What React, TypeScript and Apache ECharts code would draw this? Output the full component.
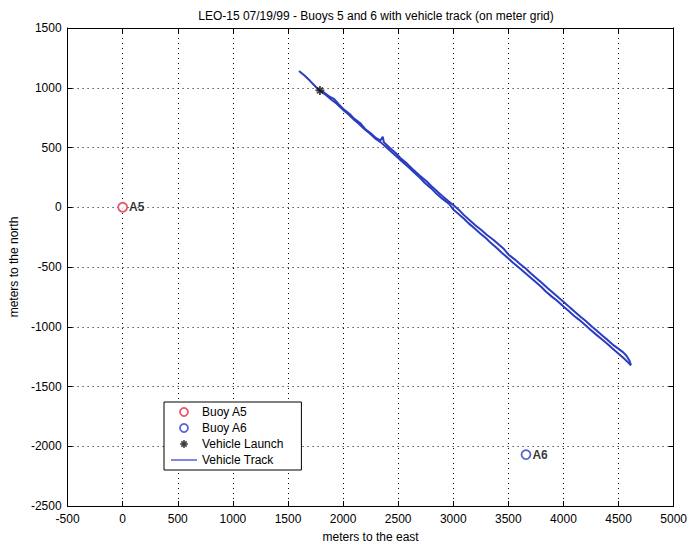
import React, { useEffect, useRef } from "react";
import * as echarts from "echarts";

const titleText = "LEO-15 07/19/99 - Buoys 5 and 6 with vehicle track (on meter grid)";
const xTicks = { min: -500, max: 5000, interval: 500 };
const yTicks = { min: -2500, max: 1500, interval: 500 };

const buoyA5: number[][] = [[0, 0]];
const buoyA6: number[][] = [[3660, -2070]];
const launch: number[][] = [[1790, 978]];

// Outbound leg of the vehicle track
const trackOut: number[][] = [
  [1600, 1140], [1650, 1102], [1700, 1058], [1760, 1000], [1790, 975], [1830, 958],
  [1870, 930], [1920, 905], [1960, 862], [2000, 825], [2060, 780], [2100, 742],
  [2160, 700], [2200, 655], [2260, 612], [2300, 578], [2340, 560], [2360, 590],
  [2370, 545], [2420, 500], [2480, 452], [2520, 412], [2580, 365], [2630, 320],
  [2700, 262], [2760, 215], [2800, 178], [2860, 128], [2900, 95], [2960, 48],
  [3000, 18], [3060, -30], [3100, -68], [3160, -118], [3200, -150], [3260, -195],
  [3300, -228], [3360, -270], [3400, -302], [3460, -350], [3500, -395], [3560, -438],
  [3600, -470], [3660, -515], [3700, -550], [3760, -598], [3800, -630], [3860, -680],
  [3900, -712], [3960, -760], [4000, -790], [4060, -840], [4100, -872], [4160, -920],
  [4200, -950], [4260, -1000], [4300, -1032], [4360, -1080], [4400, -1110],
  [4460, -1158], [4500, -1185], [4540, -1212], [4570, -1240], [4600, -1285], [4612, -1322],
];

// Return leg of the vehicle track
const trackBack: number[][] = [
  [4612, -1322], [4580, -1292], [4540, -1258], [4500, -1225], [4440, -1178],
  [4400, -1145], [4340, -1098], [4300, -1068], [4240, -1020], [4200, -988],
  [4140, -940], [4100, -912], [4040, -862], [4000, -830], [3940, -780],
  [3900, -752], [3840, -705], [3800, -668], [3740, -620], [3700, -588],
  [3640, -540], [3600, -508], [3540, -462], [3500, -428], [3440, -380],
  [3400, -345], [3340, -298], [3300, -262], [3240, -215], [3200, -182],
  [3140, -135], [3100, -98], [3040, -50], [3000, -18], [2960, 30], [2900, 72],
  [2840, 120], [2800, 158], [2740, 205], [2700, 245], [2640, 295], [2600, 330],
  [2540, 378], [2500, 412], [2440, 462], [2400, 495], [2340, 545], [2300, 570],
  [2240, 620], [2200, 648], [2140, 700], [2100, 732], [2040, 785], [2000, 815],
  [1940, 868], [1900, 895], [1850, 935], [1810, 962],
];

const legendNames = ["Buoy A5", "Buoy A6", "Vehicle Launch", "Vehicle Track"];

const starPath =
  "path://M0,4L10,4L10,6L0,6Z M4,0L6,0L6,10L4,10Z M1,2.4L2.4,1L9,7.6L7.6,9Z M7.6,1L9,2.4L2.4,9L1,7.6Z";
const linePath = "path://M0,0L28,0L28,1.6L0,1.6Z";

export default function App() {
  const ref = useRef<HTMLDivElement>(null);
  useEffect(() => {
    if (!ref.current) return;
    const chart = echarts.init(ref.current, null, { renderer: "svg" });
    const font = "Liberation Sans";
    const trackColor = "#2a3cc0";
    const axisCommon = {
      type: "value" as const,
      axisLine: { show: true, onZero: false, lineStyle: { color: "#000", width: 1 } },
      axisTick: { show: true, inside: true, length: 5, lineStyle: { color: "#000" } },
      minorTick: { show: false },
    };
    const plain = (v: number) => String(v);
    chart.setOption({
      animation: false,
      backgroundColor: "#fff",
      textStyle: { fontFamily: font, color: "#000" },
      title: {
        text: titleText,
        left: 371,
        top: 5,
        textAlign: "center",
        textStyle: { fontSize: 12, fontWeight: "normal", color: "#000", fontFamily: font },
      },
      grid: { left: 67, right: 14, top: 28, bottom: 39, containLabel: false },
      xAxis: [
        {
          ...axisCommon,
          position: "bottom",
          min: xTicks.min,
          max: xTicks.max,
          interval: xTicks.interval,
          name: "meters to the east",
          nameLocation: "middle",
          nameGap: 25,
          nameTextStyle: { fontSize: 12, color: "#000", fontFamily: font },
          axisLabel: { fontSize: 12, color: "#000", margin: 7, fontFamily: font, formatter: plain },
          splitLine: { show: true, lineStyle: { color: "#000", type: [1, 4], width: 1 } },
        },
        {
          ...axisCommon,
          position: "top",
          min: xTicks.min,
          max: xTicks.max,
          interval: xTicks.interval,
          axisLabel: { show: false },
          splitLine: { show: false },
        },
      ],
      yAxis: [
        {
          ...axisCommon,
          position: "left",
          min: yTicks.min,
          max: yTicks.max,
          interval: yTicks.interval,
          name: "meters to the north",
          nameLocation: "middle",
          nameGap: 47,
          nameTextStyle: { fontSize: 12, color: "#000", fontFamily: font },
          axisLabel: { fontSize: 12, color: "#000", margin: 6, fontFamily: font, formatter: plain },
          splitLine: { show: true, lineStyle: { color: "#000", type: [1, 4], width: 1 } },
        },
        {
          ...axisCommon,
          position: "right",
          min: yTicks.min,
          max: yTicks.max,
          interval: yTicks.interval,
          axisLabel: { show: false },
          splitLine: { show: false },
        },
      ],
      legend: {
        orient: "vertical",
        left: 164,
        top: 402,
        padding: [3, 18, 3, 7],
        itemGap: 2,
        itemWidth: 26,
        itemHeight: 8,
        backgroundColor: "#fff",
        borderColor: "#000",
        borderWidth: 1,
        textStyle: { fontSize: 12, color: "#000", fontFamily: font, lineHeight: 14 },
        data: [
          {
            name: legendNames[0],
            icon: "circle",
            itemStyle: { color: "#fff", borderColor: "#e0304a", borderWidth: 1.8 },
          },
          {
            name: legendNames[1],
            icon: "circle",
            itemStyle: { color: "#fff", borderColor: "#2a3cc0", borderWidth: 1.8 },
          },
          { name: legendNames[2], icon: starPath, itemStyle: { color: "#111" } },
          { name: legendNames[3], icon: linePath, itemStyle: { color: "#5060d8" } },
        ],
      },
      series: [
        {
          name: legendNames[3],
          type: "line",
          data: trackOut,
          symbol: "none",
          smooth: false,
          lineStyle: { color: trackColor, width: 2 },
          itemStyle: { color: "#5060d8" },
          z: 2,
        },
        {
          name: legendNames[3],
          type: "line",
          data: trackBack,
          symbol: "none",
          smooth: false,
          lineStyle: { color: trackColor, width: 2 },
          itemStyle: { color: "#5060d8" },
          z: 2,
        },
        {
          name: legendNames[0],
          type: "scatter",
          data: buoyA5,
          symbol: "circle",
          symbolSize: 9,
          itemStyle: { color: "#fff", borderColor: "#e0304a", borderWidth: 1.8 },
          label: {
            show: true,
            position: "right",
            distance: 1,
            formatter: "A5",
            fontSize: 12,
            fontWeight: "bold",
            color: "#000",
            fontFamily: font,
          },
          z: 5,
        },
        {
          name: legendNames[1],
          type: "scatter",
          data: buoyA6,
          symbol: "circle",
          symbolSize: 9,
          itemStyle: { color: "#fff", borderColor: "#2a3cc0", borderWidth: 1.8 },
          label: {
            show: true,
            position: "right",
            distance: 1,
            formatter: "A6",
            fontSize: 12,
            fontWeight: "bold",
            color: "#000",
            fontFamily: font,
          },
          z: 5,
        },
        {
          name: legendNames[2],
          type: "scatter",
          data: launch,
          symbol: starPath,
          symbolSize: 9,
          itemStyle: { color: "#111" },
          z: 6,
        },
      ],
    });
    return () => chart.dispose();
  }, []);
  return <div ref={ref} style={{ width: 690, height: 548, position: "absolute", left: 0, top: 0 }} />;
}
